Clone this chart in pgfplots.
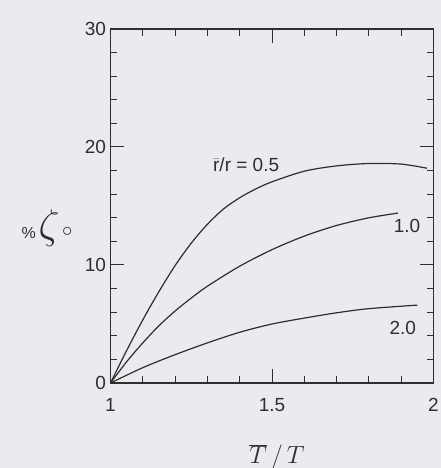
\documentclass[border=0pt]{standalone}
\usepackage{pgfplots}
\pgfplotsset{compat=1.18}
\usetikzlibrary{backgrounds}
\usepackage{fontspec}
\setmainfont{Liberation Sans}
\definecolor{paper}{HTML}{E9EBEE}
\definecolor{ink}{HTML}{2E2E2E}

\begin{document}
\begin{tikzpicture}
\begin{axis}[
  scale only axis, width=323pt, height=354pt,
  xmin=1, xmax=2, ymin=0, ymax=30,
  xtick={1,1.5,2}, xticklabels={1,1.5,2},
  minor xtick={1.1,1.2,1.3,1.4,1.6,1.7,1.8,1.9},
  ytick={0,10,20,30},
  minor ytick={2,4,6,8,12,14,16,18,22,24,26,28},
  tick align=inside,
  major tick length=14pt, minor tick length=7pt,
  tick style={ink, line width=1pt},
  axis line style={ink, line width=1.1pt},
  tick label style={font=\fontsize{19}{19}\selectfont, text=ink},
  /pgf/number format/assume math mode=true,
  xticklabel style={yshift=-12pt},
  yticklabel style={xshift=-1pt},
  clip=false,
]
\addplot[ink, line width=1.2pt, smooth] coordinates {
  (1,0) (1.05,2.75) (1.1,5.35) (1.15,7.75) (1.2,9.95) (1.25,11.85) (1.3,13.45)
  (1.35,14.75) (1.4,15.7) (1.45,16.45) (1.5,17.05) (1.6,17.95) (1.7,18.4)
  (1.8,18.6) (1.9,18.55) (1.98,18.2)};
\addplot[ink, line width=1.2pt, smooth] coordinates {
  (1,0) (1.05,1.8) (1.1,3.4) (1.15,4.85) (1.2,6.1) (1.25,7.2) (1.3,8.2)
  (1.4,9.9) (1.5,11.3) (1.6,12.45) (1.7,13.35) (1.8,14.0) (1.89,14.4)};
\addplot[ink, line width=1.2pt, smooth] coordinates {
  (1,0) (1.1,1.3) (1.2,2.4) (1.3,3.4) (1.4,4.3) (1.5,5.0) (1.6,5.5)
  (1.7,5.95) (1.8,6.3) (1.95,6.6)};
\node[text=ink, font=\fontsize{19}{19}\selectfont] at (axis cs:1.42,18.5) {$\bar{\textrm{r}}$/r = 0.5};
\node[text=ink, font=\fontsize{19}{19}\selectfont] at (axis cs:1.918,13.3) {1.0};
\node[text=ink, font=\fontsize{19}{19}\selectfont] at (axis cs:1.905,4.7) {2.0};
\end{axis}
\pgfresetboundingbox
\useasboundingbox (-110.5pt,-85pt) rectangle (330.5pt,383pt);
\begin{scope}[on background layer]
\fill[paper] (-110.5pt,-85pt) rectangle (330.5pt,383pt);
\end{scope}
\node[text=ink, anchor=base west, inner sep=0pt] at (-89pt,144pt) {\fontsize{16}{16}\selectfont\%\,\scalebox{2.4}{$\zeta$}\,\raisebox{2pt}{\scalebox{1.2}{$\circ$}}};
\node[text=ink] at (166.5pt,-74pt) {\fontsize{32}{32}\selectfont$\overline{T}\,/\,T$};
\node[text=ink, anchor=north] at (246.5pt,-82pt) {\fontsize{22}{22}\selectfont(1)};
\end{tikzpicture}
\end{document}
